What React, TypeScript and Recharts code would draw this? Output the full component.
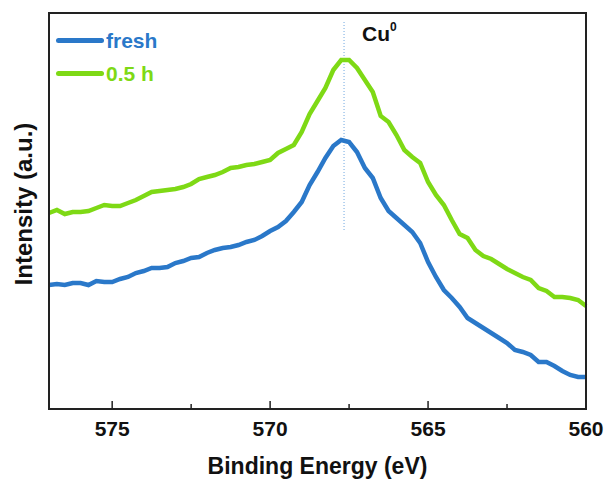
import { LineChart, Line, XAxis, YAxis, ReferenceLine, Label } from 'recharts';

// binding energy grid (eV), read left to right
const energy = [
  577.0, 576.75, 576.5, 576.25, 576.0, 575.75, 575.5, 575.25, 575.0, 574.75,
  574.5, 574.25, 574.0, 573.75, 573.5, 573.25, 573.0, 572.75, 572.5, 572.25,
  572.0, 571.75, 571.5, 571.25, 571.0, 570.75, 570.5, 570.25, 570.0, 569.75,
  569.5, 569.25, 569.0, 568.75, 568.5, 568.25, 568.0, 567.75, 567.5, 567.25,
  567.0, 566.75, 566.5, 566.25, 566.0, 565.75, 565.5, 565.25, 565.0, 564.75,
  564.5, 564.25, 564.0, 563.75, 563.5, 563.25, 563.0, 562.75, 562.5, 562.25,
  562.0, 561.75, 561.5, 561.25, 561.0, 560.75, 560.5, 560.25, 560.0,
];

const fresh = [
  124, 125, 124, 126, 126, 124, 128, 127, 127, 130,
  132, 136, 138, 141, 141, 142, 146, 148, 151, 152,
  156, 159, 161, 162, 164, 167, 169, 173, 178, 182,
  188, 197, 207, 224, 237, 251, 263, 269, 267, 257,
  241, 231, 211, 198, 191, 184, 177, 166, 147, 132,
  119, 111, 102, 91, 86, 81, 76, 71, 66, 59,
  57, 54, 47, 47, 43, 38, 34, 32, 32,
];

const halfHour = [
  196, 199, 195, 197, 197, 198, 201, 204, 203, 203,
  206, 209, 213, 217, 218, 219, 220, 222, 225, 230,
  232, 234, 237, 241, 242, 244, 245, 247, 249, 256,
  260, 264, 277, 295, 308, 321, 339, 349, 349, 341,
  329, 317, 293, 287, 274, 259, 252, 246, 227, 214,
  204, 189, 175, 171, 159, 153, 150, 145, 140, 136,
  132, 129, 121, 118, 112, 112, 111, 109, 103,
];

const majorTicks = [575, 570, 565, 560];
const allTicks = [575, 572.5, 570, 567.5, 565, 562.5, 560];
const xDomain = [560, 577];
const yDomain = [0, 396];
const peakEnergy = 567.66;

const data = energy.map((e, i) => ({ e, fresh: fresh[i], half: halfHour[i] }));

const BLUE = '#2a78c9';
const GREEN = '#7ed915';
const AXIS = '#222';
const FONT = '"Liberation Sans", Arial, sans-serif';

// plot box inside the 609x484 canvas
const plot = { left: 49, top: 13, right: 586, bottom: 409 };

function Tick(props: any) {
  const { x, y, payload } = props;
  const major = majorTicks.includes(payload.value);
  return (
    <g>
      <line x1={x} x2={x} y1={y} y2={y - (major ? 8 : 5)} stroke={AXIS} strokeWidth={1.5} />
      {major && (
        <text x={x} y={y + 27} textAnchor="middle" fontSize={21} fontWeight="bold" fill="#111" fontFamily={FONT}>
          {payload.value}
        </text>
      )}
    </g>
  );
}

export default function App() {
  return (
    <div style={{ position: 'absolute', left: 0, top: 0, width: 609, height: 484, background: '#fff', fontFamily: FONT }}>
      <LineChart
        width={609}
        height={484}
        data={data}
        margin={{ top: plot.top, right: 609 - plot.right, left: plot.left, bottom: 0 }}
      >
        <XAxis
          dataKey="e"
          type="number"
          domain={xDomain}
          reversed
          ticks={allTicks}
          interval={0}
          tickLine={false}
          tickSize={0}
          tickMargin={0}
          tick={<Tick />}
          height={484 - plot.bottom}
          axisLine={{ stroke: AXIS, strokeWidth: 1.5 }}
        >
          <Label
            value="Binding Energy (eV)"
            position="insideBottom"
            offset={10}
            style={{ fontSize: 23, fontWeight: 'bold', fill: '#111', fontFamily: FONT }}
          />
        </XAxis>
        <YAxis domain={yDomain} hide />
        <ReferenceLine
          segment={[{ x: peakEnergy, y: 179 }, { x: peakEnergy, y: 389 }]}
          stroke="#6fa8e0"
          strokeDasharray="1 2"
          strokeWidth={1}
          ifOverflow="visible"
        />
        <Line type="linear" dataKey="fresh" stroke={BLUE} strokeWidth={4.5} dot={false} isAnimationActive={false} />
        <Line type="linear" dataKey="half" stroke={GREEN} strokeWidth={4.5} dot={false} isAnimationActive={false} />
      </LineChart>

      {/* plot frame */}
      <div
        style={{
          position: 'absolute',
          left: plot.left - 1,
          top: plot.top - 1,
          width: plot.right - plot.left + 2,
          height: plot.bottom - plot.top + 2,
          border: `2px solid ${AXIS}`,
          boxSizing: 'border-box',
          pointerEvents: 'none',
        }}
      />

      {/* legend */}
      <div style={{ position: 'absolute', left: 56, top: 24, lineHeight: '33px' }}>
        <div style={{ display: 'flex', alignItems: 'center' }}>
          <div style={{ width: 48, height: 5, borderRadius: 3, background: BLUE, marginRight: 2 }} />
          <span style={{ color: BLUE, fontWeight: 'bold', fontSize: 21 }}>fresh</span>
        </div>
        <div style={{ display: 'flex', alignItems: 'center' }}>
          <div style={{ width: 48, height: 5, borderRadius: 3, background: GREEN, marginRight: 2 }} />
          <span style={{ color: GREEN, fontWeight: 'bold', fontSize: 21 }}>0.5 h</span>
        </div>
      </div>

      {/* peak label */}
      <div style={{ position: 'absolute', left: 362, top: 22, fontWeight: 'bold', fontSize: 21, color: '#111' }}>
        Cu<sup style={{ fontSize: 12, verticalAlign: 'top', position: 'relative', top: -2 }}>0</sup>
      </div>

      {/* y axis title */}
      <div
        style={{
          position: 'absolute',
          left: 24,
          top: 204,
          transform: 'translate(-50%, -50%) rotate(-90deg)',
          whiteSpace: 'nowrap',
          fontWeight: 'bold',
          fontSize: 24,
          color: '#111',
        }}
      >
        Intensity (a.u.)
      </div>
    </div>
  );
}
